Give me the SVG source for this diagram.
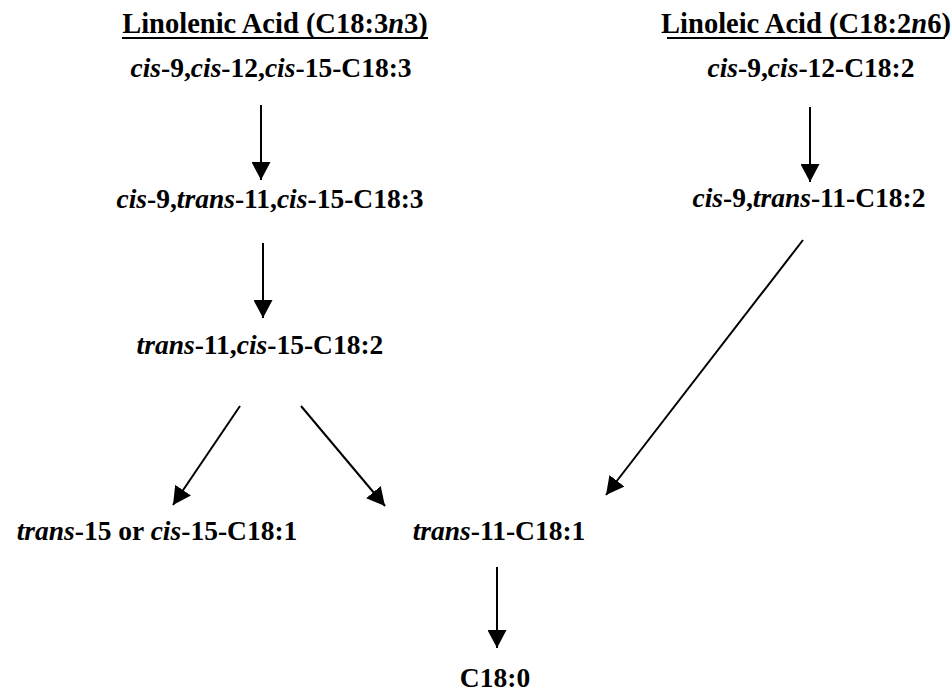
<svg xmlns="http://www.w3.org/2000/svg" width="951" height="693" viewBox="0 0 951 693">
<style>
text{font-family:"Liberation Serif","Times New Roman",serif;font-weight:bold;font-size:27.5px;fill:#000;text-anchor:middle}
.t{font-size:28.5px}
.i{font-style:italic}
.c{stroke:#000;stroke-width:2;fill:none}
.u{stroke:#000;stroke-width:2}
</style>
<defs>
<marker id="ah" viewBox="0 0 18 19" refX="18" refY="9.5" markerWidth="18" markerHeight="19" markerUnits="userSpaceOnUse" orient="auto">
<path d="M0,0 L18,9.5 L0,19 z" fill="#000"/>
</marker>
</defs>
<rect width="951" height="693" fill="#fff"/>
<g id="title-linolenic">
<text class="t" x="275" y="33">Linolenic Acid (C18:3<tspan class="i">n</tspan>3)</text>
<line class="u" x1="122" y1="38" x2="428" y2="38"/>
</g>
<g id="title-linoleic">
<text class="t" x="806" y="33">Linoleic Acid (C18:2<tspan class="i">n</tspan>6)</text>
<line class="u" x1="667" y1="38" x2="945" y2="38"/>
</g>
<g id="n-c9c12c15"><text x="271" y="77"><tspan class="i">cis</tspan>-9,<tspan class="i">cis</tspan>-12,<tspan class="i">cis</tspan>-15-C18:3</text></g>
<g id="n-c9c12"><text x="811" y="77"><tspan class="i">cis</tspan>-9,<tspan class="i">cis</tspan>-12-C18:2</text></g>
<g id="n-c9t11c15"><text x="270" y="208"><tspan class="i">cis</tspan>-9,<tspan class="i">trans</tspan>-11,<tspan class="i">cis</tspan>-15-C18:3</text></g>
<g id="n-c9t11"><text x="809" y="207"><tspan class="i">cis</tspan>-9,<tspan class="i">trans</tspan>-11-C18:2</text></g>
<g id="n-t11c15"><text x="260" y="354"><tspan class="i">trans</tspan>-11,<tspan class="i">cis</tspan>-15-C18:2</text></g>
<g id="n-t15c15"><text x="157" y="540"><tspan class="i">trans</tspan>-15 or <tspan class="i">cis</tspan>-15-C18:1</text></g>
<g id="n-t11"><text x="499" y="540"><tspan class="i">trans</tspan>-11-C18:1</text></g>
<g id="n-c180"><text x="495" y="687">C18:0</text></g>
<g id="connectors">
<line class="c" x1="261" y1="105" x2="261" y2="180" marker-end="url(#ah)"/>
<line class="c" x1="263" y1="243" x2="263" y2="318" marker-end="url(#ah)"/>
<line class="c" x1="810" y1="107" x2="810" y2="182" marker-end="url(#ah)"/>
<line class="c" x1="803" y1="240" x2="606" y2="495" marker-end="url(#ah)"/>
<line class="c" x1="240" y1="406" x2="173" y2="505" marker-end="url(#ah)"/>
<line class="c" x1="301" y1="406" x2="385" y2="506" marker-end="url(#ah)"/>
<line class="c" x1="497" y1="567" x2="497" y2="648" marker-end="url(#ah)"/>
</g>
</svg>
